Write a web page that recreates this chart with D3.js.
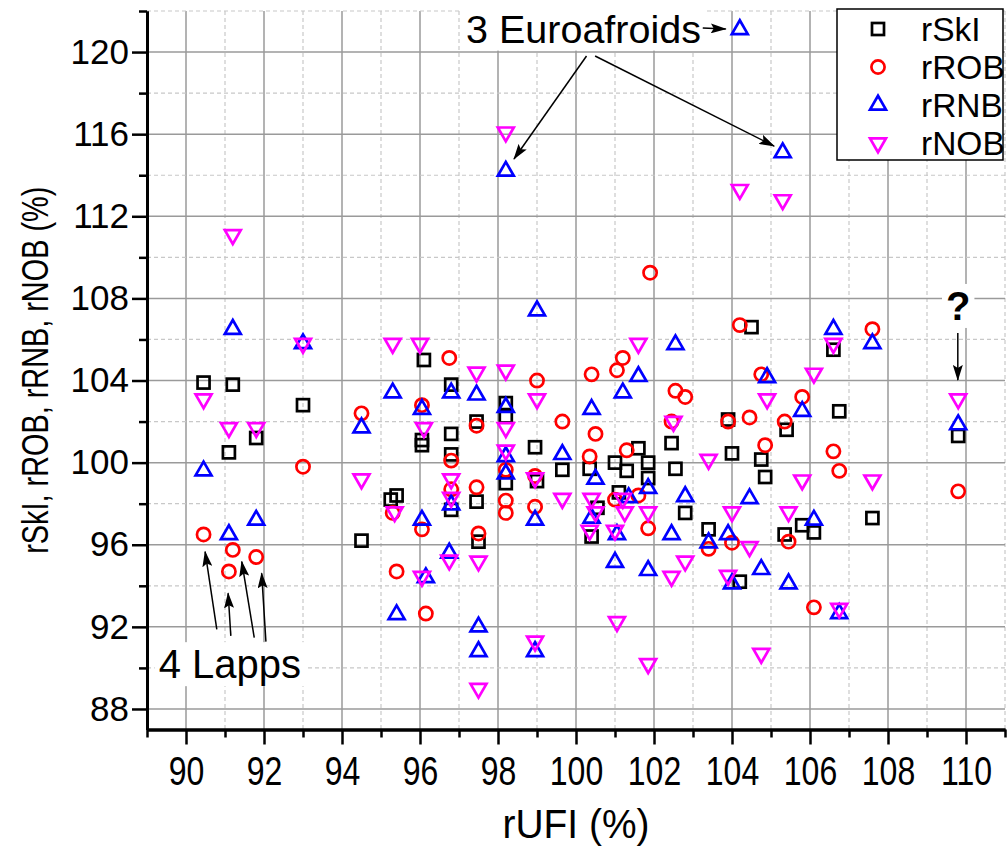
<!DOCTYPE html>
<html>
<head>
<meta charset="utf-8">
<script src="https://cdn.jsdelivr.net/npm/d3@7"></script>
<style>
  body { margin: 0; background: #fff; }
  svg { display: block; }
  text { font-family: "Liberation Sans", Arial, sans-serif; fill: #000; }
</style>
</head>
<body>
<svg id="chart" width="1008" height="846"></svg>
<script>
// ---- axis ticks ----
const xMajorTicks = d3.range(90, 111, 2);      // labelled
const xMinorTicks = d3.range(89, 112, 2);
const yMajorTicks = d3.range(88, 121, 4);      // labelled
const yMinorTicks = d3.range(90, 123, 4);

// ---- series: [rUFI, ratio] pairs, in percent ----
const rSkI = [
  [90.45,103.9],[91.2,103.8],[91.8,101.2],[91.1,100.5],[93.0,102.8],[94.5,96.2],
  [95.4,98.4],[95.25,98.2],[96.1,105.0],[96.05,101.1],[96.05,100.85],[96.8,103.8],
  [96.8,101.4],[96.8,100.4],[96.8,97.7],[97.45,102.0],[97.45,98.1],[97.5,96.15],
  [98.2,102.9],[98.2,102.25],[98.2,99.0],[98.95,100.75],[99.0,99.1],[99.65,99.65],
  [100.35,99.7],[100.55,97.8],[100.4,96.4],[101.0,100.0],[101.1,98.55],[101.3,99.6],
  [101.6,100.7],[101.85,100.0],[101.85,99.25],[102.45,100.95],[102.55,99.7],[102.8,97.55],
  [103.4,96.75],[103.9,102.1],[104.0,100.45],[104.2,94.2],[104.5,106.6],[104.75,100.15],
  [104.85,99.3],[105.35,96.5],[105.4,101.6],[105.8,96.95],[106.1,96.6],[106.6,105.5],
  [106.75,102.5],[107.6,97.3],[109.8,101.3]
];
const rROB = [
  [90.45,96.5],[91.2,95.75],[91.1,94.7],[91.8,95.4],[93.0,99.8],[94.5,102.4],
  [95.3,97.55],[95.4,94.7],[96.05,102.8],[96.05,96.75],[96.15,92.65],[96.75,105.1],
  [96.8,100.1],[96.8,98.7],[97.45,101.8],[97.45,98.8],[97.5,96.55],[98.2,99.65],
  [98.2,98.15],[98.2,97.55],[98.95,99.35],[98.95,97.85],[99.0,104.0],[99.65,102.0],
  [100.35,100.3],[100.4,104.3],[100.5,101.4],[101.0,98.2],[101.05,104.5],[101.2,105.1],
  [101.3,100.6],[101.6,98.4],[101.85,96.8],[101.9,109.25],[102.45,102.0],[102.55,103.5],
  [102.8,103.2],[103.4,95.8],[103.9,102.0],[104.0,96.1],[104.2,106.7],[104.45,102.2],
  [104.75,104.3],[104.85,100.85],[105.35,102.0],[105.45,96.15],[105.8,103.2],[106.1,92.95],
  [106.6,100.55],[106.75,99.6],[107.6,106.5],[109.8,98.6]
];
const rRNB = [
  [90.45,99.6],[91.1,96.5],[91.2,106.5],[91.8,97.2],[93.0,105.8],[94.5,101.7],
  [95.3,103.4],[95.4,92.6],[96.05,102.6],[96.05,97.2],[96.15,94.4],[96.8,103.4],
  [96.8,97.95],[96.75,95.6],[97.45,103.3],[97.5,92.0],[97.5,90.8],[98.2,114.2],
  [98.2,102.7],[98.2,100.3],[98.2,99.45],[98.95,97.2],[98.95,90.8],[99.0,107.4],
  [99.65,100.4],[100.4,102.6],[100.4,97.3],[100.5,99.2],[101.05,96.5],[101.0,95.15],
  [101.2,103.4],[101.35,98.3],[101.6,104.2],[101.85,98.75],[101.85,94.75],[102.45,96.5],
  [102.55,105.75],[102.8,98.35],[103.4,96.1],[103.9,96.5],[104.0,94.1],[104.2,121.1],
  [104.45,98.25],[104.75,94.8],[104.9,104.15],[105.3,115.1],[105.45,94.1],[105.8,102.5],
  [106.1,97.2],[106.6,106.5],[106.75,92.65],[107.6,105.8],[109.8,101.85]
];
const rNOB = [
  [90.45,103.1],[91.1,101.7],[91.2,111.1],[91.8,101.7],[93.0,105.8],[94.5,99.2],
  [95.3,105.8],[95.35,97.6],[96.0,105.8],[96.1,101.7],[96.05,94.45],[96.8,99.2],
  [96.8,98.3],[96.75,95.25],[97.45,104.4],[97.5,95.2],[97.5,89.0],[98.2,116.1],
  [98.2,104.5],[98.2,101.7],[98.2,100.6],[98.95,99.25],[98.95,91.3],[99.0,103.1],
  [99.65,98.25],[100.4,98.25],[100.5,97.6],[100.35,96.7],[101.2,98.25],[101.25,97.6],
  [101.0,96.7],[101.05,92.25],[101.6,105.8],[101.85,97.6],[101.85,90.2],[102.5,102.0],
  [102.45,94.45],[102.8,95.2],[103.4,100.15],[103.9,94.5],[104.0,97.6],[104.2,113.3],
  [104.45,95.9],[104.75,90.7],[104.9,103.1],[105.3,112.8],[105.45,97.6],[105.8,99.15],
  [106.1,104.35],[106.6,105.8],[106.75,92.9],[107.6,99.15],[109.8,103.1]
];

const seriesNames = ["rSkI", "rROB", "rRNB", "rNOB"];
const seriesData = [rSkI, rROB, rRNB, rNOB];
const seriesColors = ["#000000", "#ff0000", "#0000ff", "#ff00ff"];
const seriesShapes = ["square", "circle", "up", "down"];

// ---- annotations (data units) ----
const labelEuro = { text: "3 Euroafroids", x: 97.18, y: 120.46 };
const arrowsEuro = [
  [[103.25,121.17],[103.84,121.12]],
  [[100.27,119.81],[98.41,114.79]],
  [[100.49,119.81],[105.08,115.42]]
];
const labelLapps = { text: "4 Lapps", x: 89.3, y: 89.5 };
const arrowsLapps = [
  [[90.79,91.88],[90.49,95.66]],
  [[91.15,91.56],[91.08,93.64]],
  [[91.75,91.47],[91.43,95.18]],
  [[92.05,91.28],[91.94,94.61]]
];
const labelQ = { text: "?", x: 109.8, y: 106.95 };
const arrowsQ = [ [[109.79,106.32],[109.79,104.03]] ];

// ---- layout ----
const svg = d3.select("#chart");
const x = d3.scaleLinear().domain([89, 111]).range([147, 1005]);
const y = d3.scaleLinear().domain([87, 122]).range([729.5, 11]);

svg.append("rect").attr("width", 1008).attr("height", 846).attr("fill", "#fff");

// grid
const grid = svg.append("g");
d3.range(90, 112).forEach(v => {
  const major = v % 2 === 0;
  grid.append("line")
    .attr("x1", x(v)).attr("x2", x(v)).attr("y1", y(122)).attr("y2", y(87))
    .attr("stroke", major ? "#9a9a9a" : "#c8c8c8")
    .attr("stroke-width", major ? 1.5 : 1.2)
    .attr("stroke-dasharray", major ? null : "4,3");
});
d3.range(88, 123, 2).forEach(v => {
  const major = v % 4 === 0;
  grid.append("line")
    .attr("x1", x(89)).attr("x2", x(111)).attr("y1", y(v)).attr("y2", y(v))
    .attr("stroke", major ? "#9a9a9a" : "#c8c8c8")
    .attr("stroke-width", major ? 1.5 : 1.2)
    .attr("stroke-dasharray", major ? null : "4,3");
});

// markers
function drawMarker(g, shape, color, cx, cy) {
  if (shape === "square") {
    g.append("rect").attr("x", cx - 6).attr("y", cy - 6).attr("width", 12).attr("height", 12)
      .attr("fill", "none").attr("stroke", color).attr("stroke-width", 2.7);
  } else if (shape === "circle") {
    g.append("circle").attr("cx", cx).attr("cy", cy).attr("r", 6.6)
      .attr("fill", "none").attr("stroke", color).attr("stroke-width", 2.7);
  } else {
    const p = d3.symbol().type(d3.symbolTriangle).size(110)();
    g.append("path").attr("d", p)
      .attr("transform", `translate(${cx},${cy})` + (shape === "down" ? " rotate(180)" : ""))
      .attr("fill", "none").attr("stroke", color).attr("stroke-width", 2.7)
      .attr("stroke-linejoin", "miter");
  }
}

const marks = svg.append("g");
seriesData.forEach((data, i) => {
  const g = marks.append("g").attr("class", seriesNames[i]);
  data.forEach(d => drawMarker(g, seriesShapes[i], seriesColors[i], x(d[0]), y(d[1])));
});

// arrows
const defs = svg.append("defs");
defs.append("marker").attr("id", "head")
  .attr("markerUnits", "userSpaceOnUse")
  .attr("markerWidth", 16).attr("markerHeight", 10)
  .attr("refX", 15).attr("refY", 5).attr("orient", "auto")
  .append("path").attr("d", "M0,0 L16,5 L0,10 L3,5 Z").attr("fill", "#000");

const ann = svg.append("g");
function drawLabel(lab, size, weight, anchor) {
  const t = ann.append("text")
    .attr("x", x(lab.x)).attr("y", y(lab.y))
    .attr("font-size", size).attr("font-weight", weight)
    .attr("text-anchor", anchor).text(lab.text);
  const b = t.node().getBBox();
  ann.insert("rect", () => t.node())
    .attr("x", b.x - 4).attr("y", b.y).attr("width", b.width + 8).attr("height", b.height)
    .attr("fill", "#fff");
}
drawLabel(labelEuro, 39.5, "normal", "start");
drawLabel(labelLapps, 40, "normal", "start");
drawLabel(labelQ, 40, "bold", "middle");

[...arrowsEuro, ...arrowsLapps, ...arrowsQ].forEach(a => {
  ann.append("line")
    .attr("x1", x(a[0][0])).attr("y1", y(a[0][1]))
    .attr("x2", x(a[1][0])).attr("y2", y(a[1][1]))
    .attr("stroke", "#000").attr("stroke-width", 1.5)
    .attr("marker-end", "url(#head)");
});

// axes
const axisG = svg.append("g");
const xMinor = axisG.append("g").attr("transform", `translate(0,${y(87)})`)
  .call(d3.axisBottom(x).tickValues(xMinorTicks).tickSize(8).tickSizeOuter(0).tickFormat(""));
const xMajor = axisG.append("g").attr("transform", `translate(0,${y(87)})`)
  .call(d3.axisBottom(x).tickValues(xMajorTicks).tickSize(15).tickSizeOuter(0).tickPadding(12));
const yMinor = axisG.append("g").attr("transform", `translate(${x(89)},0)`)
  .call(d3.axisLeft(y).tickValues(yMinorTicks).tickSize(8).tickSizeOuter(0).tickFormat(""));
const yMajor = axisG.append("g").attr("transform", `translate(${x(89)},0)`)
  .call(d3.axisLeft(y).tickValues(yMajorTicks).tickSize(15).tickSizeOuter(0).tickPadding(3));

axisG.selectAll(".domain").attr("stroke", "#000").attr("stroke-width", 3);
axisG.selectAll(".tick line").attr("stroke", "#000").attr("stroke-width", 2.5);
xMajor.selectAll("text")
  .attr("font-size", 40).attr("font-family", '"Liberation Sans", Arial, sans-serif')
  .attr("transform", "scale(0.8,1)");
yMajor.selectAll("text")
  .attr("font-size", 35).attr("font-family", '"Liberation Sans", Arial, sans-serif');

// axis titles
svg.append("text")
  .attr("transform", `translate(${x(100)},838) scale(0.95,1)`)
  .attr("text-anchor", "middle").attr("font-size", 41).text("rUFI (%)");
svg.append("text")
  .attr("transform", `translate(48,${y(104.5)}) rotate(-90) scale(0.78,1)`)
  .attr("text-anchor", "middle").attr("font-size", 37).text("rSkI, rROB, rRNB, rNOB (%)");

// legend
const leg = svg.append("g");
leg.append("rect").attr("x", 837).attr("y", 9).attr("width", 166).attr("height", 151)
  .attr("fill", "#fff").attr("stroke", "#000").attr("stroke-width", 1.5);
seriesNames.forEach((name, i) => {
  const ly = 29 + i * 38;
  drawMarker(leg, seriesShapes[i], seriesColors[i], 878, ly);
  leg.append("text").attr("x", 921).attr("y", ly + 12)
    .attr("font-size", 33.5).text(name);
});
</script>
</body>
</html>
